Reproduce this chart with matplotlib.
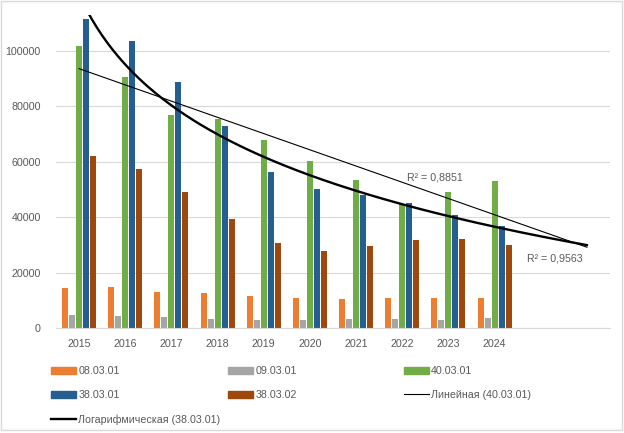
import numpy as np
import matplotlib
matplotlib.use("Agg")
import matplotlib.pyplot as plt
from matplotlib.patches import Patch, Rectangle
from matplotlib.lines import Line2D

plt.rcParams["font.family"] = ["Liberation Sans", "DejaVu Sans"]

# data
years = ["2015", "2016", "2017", "2018", "2019", "2020", "2021", "2022", "2023", "2024"]
s_080301 = [14400, 14700, 12900, 12600, 11500, 10800, 10400, 10800, 10800, 10800]
s_090301 = [4700, 4300, 4000, 3200, 2900, 2900, 3200, 3200, 2900, 3600]
s_400301 = [101800, 90600, 76600, 75200, 67600, 60100, 53200, 44600, 48900, 52900]
s_380301 = [111500, 103600, 88800, 72700, 56100, 50000, 47800, 45000, 40600, 36700]
s_380302 = [61900, 57200, 48900, 39200, 30600, 27700, 29500, 31700, 32000, 29900]
r2_lin = "R² = 0,8851"
r2_log = "R² = 0,9563"

names = ["08.03.01", "09.03.01", "40.03.01", "38.03.01", "38.03.02"]
series = [s_080301, s_090301, s_400301, s_380301, s_380302]
colors = ["#ED7D31", "#A5A5A5", "#70AD47", "#255E91", "#9E480E"]
txt = "#595959"
grid = "#d9d9d9"

fig = plt.figure(figsize=(6.24, 4.33), dpi=100)
ax = fig.add_axes([56 / 624, 1 - 328 / 433, 554 / 624, 313.5 / 433])

x = np.arange(len(years))
slot = 0.1515
for k, (vals, c) in enumerate(zip(series, colors)):
    ax.bar(x + (k - 2) * slot, vals, width=0.13, color=c, zorder=2)

# trendlines, forecast 2 periods forward (like Excel)
xe = np.arange(1, len(years) + 1)
xf = np.linspace(1, len(years) + 2, 200)
a, b = np.polyfit(xe, s_400301, 1)
ax.plot(xf - 1, a * xf + b, color="black", lw=0.8, zorder=3)
c1, c0 = np.polyfit(np.log(xe), s_380301, 1)
ax.plot(xf - 1, c1 * np.log(xf) + c0, color="black", lw=1.7, zorder=3)

ax.text(7.10, 54400, r2_lin, fontsize=7.7, color=txt, va="center")
ax.text(9.70, 25200, r2_log, fontsize=7.7, color=txt, va="center")

ax.set_xlim(-0.5, 11.5)
ax.set_ylim(0, 113000)
ax.set_xticks(x)
ax.set_xticklabels(years)
ax.set_yticks(range(0, 100001, 20000))
ax.tick_params(axis="both", length=0, labelsize=7.7, labelcolor=txt)
ax.tick_params(axis="y", pad=11)
ax.tick_params(axis="x", pad=8)
ax.yaxis.grid(True, color=grid, lw=0.8, zorder=0)
for sp in ["top", "right", "left"]:
    ax.spines[sp].set_visible(False)
ax.spines["bottom"].set_color(grid)

# legend in three fixed columns
h = [Patch(color=c) for c in colors]
h_lin = Line2D([], [], color="black", lw=0.8)
h_log = Line2D([], [], color="black", lw=1.7)
cols = [
    (51, [h[0], h[3], h_log], [names[0], names[3], "Логарифмическая (38.03.01)"]),
    (228, [h[1], h[4]], [names[1], names[4]]),
    (404, [h[2], h_lin], [names[2], "Линейная (40.03.01)"]),
]
for px, hs, ls in cols:
    fig.legend(hs, ls, loc="upper left", bbox_to_anchor=(px / 624, 1 - 366 / 433),
               frameon=False, fontsize=7.7, labelcolor=txt, borderpad=0,
               borderaxespad=0, handlelength=2.35, handletextpad=0.2,
               labelspacing=1.32)

fig.patches.append(Rectangle((1 / 624, 3 / 433), 621 / 624, 429 / 433,
                             transform=fig.transFigure, fill=False,
                             edgecolor=grid, lw=1))

fig.savefig("out.png", dpi=100)
